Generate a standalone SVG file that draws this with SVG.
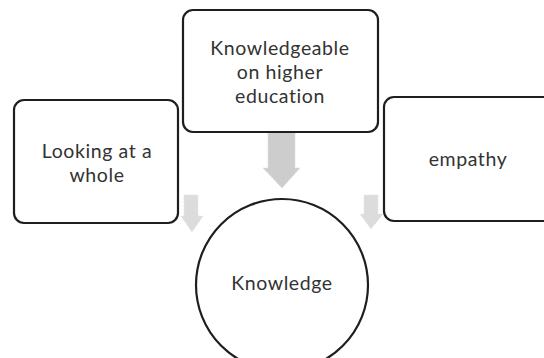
<svg xmlns="http://www.w3.org/2000/svg" width="544" height="358" viewBox="0 0 544 358">
<style>
.box{fill:#fff;stroke:#1e1e1e;stroke-width:2.2}
.lbl{font-family:Lato,"Open Sans","Liberation Sans",sans-serif;font-size:19.5px;letter-spacing:0.6px;fill:#333;text-anchor:middle;dominant-baseline:central}
.arr{fill:#cdcdcd;stroke:#dedede;stroke-width:1;stroke-dasharray:2 1.5}
.arr2{fill:#dcdcdc;stroke:#e6e6e6;stroke-width:1;stroke-dasharray:2 1.5}
</style>
<rect width="544" height="358" fill="#fff"/>
<g id="connectors">
<path class="arr" d="M268,128 L295,128 L295,168 L300,168 L282,188 L263,168 L268,168 Z"/>
<path class="arr2" d="M184,195 L198,195 L198,216 L203,216 L192,232 L181,216 L184,216 Z"/>
<path class="arr2" d="M364,195 L378,195 L378,214 L383,214 L371,229 L360,214 L364,214 Z"/>
</g>
<g id="top">
<rect class="box" x="183" y="10" width="195" height="122" rx="10"/>
<text class="lbl" x="280" y="47">Knowledgeable</text>
<text class="lbl" x="280" y="71">on higher</text>
<text class="lbl" x="280" y="95">education</text>
</g>
<g id="left">
<rect class="box" x="14" y="100" width="164" height="123" rx="10"/>
<text class="lbl" x="97" y="150">Looking at a</text>
<text class="lbl" x="97" y="174">whole</text>
</g>
<g id="right">
<rect class="box" x="384" y="97" width="170" height="124" rx="10"/>
<text class="lbl" x="468" y="158">empathy</text>
</g>
<g id="center">
<circle cx="282" cy="285" r="86" fill="#fff" stroke="#1e1e1e" stroke-width="2.2"/>
<text class="lbl" x="282" y="282">Knowledge</text>
</g>
</svg>
